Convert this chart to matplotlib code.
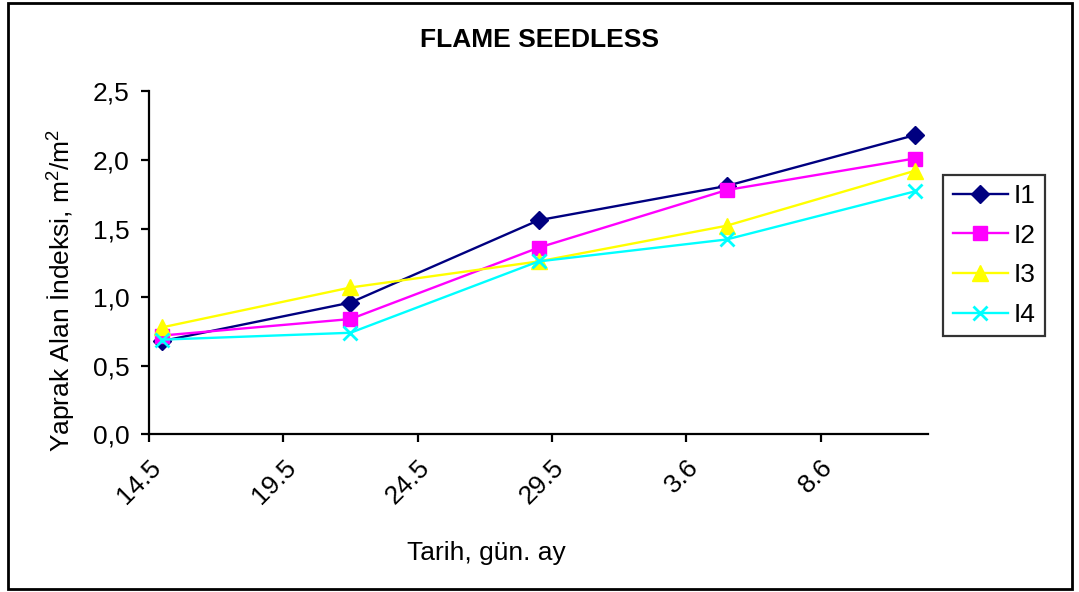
import matplotlib
matplotlib.use("Agg")
import matplotlib.pyplot as plt
from matplotlib.patches import Rectangle
import pandas as pd

plt.rcParams['font.family'] = ['Liberation Sans', 'DejaVu Sans']
plt.rcParams['mathtext.fontset'] = 'custom'
plt.rcParams['mathtext.rm'] = 'Liberation Sans'
plt.rcParams['mathtext.it'] = 'Liberation Sans'
plt.rcParams['mathtext.bf'] = 'Liberation Sans:bold'

# ---- data ----
dates = ['2009-05-14', '2009-05-21', '2009-05-28', '2009-06-04', '2009-06-11']
series_names = ['I1', 'I2', 'I3', 'I4']
I1 = [0.68, 0.96, 1.56, 1.81, 2.18]
I2 = [0.72, 0.84, 1.36, 1.78, 2.01]
I3 = [0.78, 1.07, 1.26, 1.52, 1.92]
I4 = [0.69, 0.74, 1.26, 1.42, 1.77]
tick_dates = ['2009-05-14', '2009-05-19', '2009-05-24', '2009-05-29', '2009-06-03', '2009-06-08']
x_start, x_end = '2009-05-14', '2009-06-12'
title = 'FLAME SEEDLESS'
xlabel = 'Tarih, gün. ay'
ylabel = 'Yaprak Alan İndeksi, m$^{2}$/m$^{2}$'

W, H = 1079, 592
fig = plt.figure(figsize=(W / 100, H / 100), dpi=100)
ax = fig.add_axes([149 / W, 1 - 434.3 / H, (928 - 149) / W, (434.3 - 91.3) / H])

# Excel date axis: points sit at mid-day
x = pd.to_datetime(dates) + pd.Timedelta(hours=12)

styles = [
    dict(color='#000080', marker='D', ms=9.5, mfc='#000080', mec='#000080'),
    dict(color='#FF00FF', marker='s', ms=10.5, mfc='#FF00FF', mec='#FF00FF'),
    dict(color='#FFFF00', marker='^', ms=11.5, mfc='#FFFF00', mec='#FFFF00'),
    dict(color='#00FFFF', marker='x', ms=10, mew=2),
]
for name, vals, st in zip(series_names, [I1, I2, I3, I4], styles):
    ax.plot(x, vals, lw=1.7, label=name, clip_on=False, **st)

ax.set_xlim(pd.Timestamp(x_start), pd.Timestamp(x_end))
ax.set_ylim(0, 2.5)
ax.set_yticks([0, 0.5, 1.0, 1.5, 2.0, 2.5])
ax.set_yticklabels([f"{v:.1f}".replace('.', ',') for v in [0, 0.5, 1.0, 1.5, 2.0, 2.5]])
td = pd.to_datetime(tick_dates)
ax.set_xticks(td)
ax.set_xticklabels([f"{d.day}.{d.month}" for d in td], rotation=45, ha='right',
                   va='top', rotation_mode='anchor')

for s in ['top', 'right']:
    ax.spines[s].set_visible(False)
for s in ['left', 'bottom']:
    ax.spines[s].set_linewidth(1.6)
    ax.spines[s].set_color('black')
ax.tick_params(axis='both', direction='out', length=6, width=1.6, labelsize=19, colors='black')
ax.tick_params(axis='y', pad=8)
ax.tick_params(axis='x', pad=9)

fig.text(540 / W, 1 - 40 / H, title, ha='center', va='center', fontsize=19, fontweight='bold')
fig.text(486 / W, 1 - 553 / H, xlabel, ha='center', va='center', fontsize=19)
fig.text(62 / W, 1 - 290 / H, ylabel, ha='center', va='center', fontsize=19, rotation=90)

leg = fig.legend(loc='center', bbox_to_anchor=(994 / W, 1 - 255.5 / H), fontsize=19,
                 frameon=True, fancybox=False, edgecolor='black', handlelength=2.1,
                 handletextpad=0.2, labelspacing=0.6, borderpad=0.35, borderaxespad=0)
leg.get_frame().set_linewidth(1.6)

fig.patches.append(Rectangle((8 / W, 1 - 589 / H), (1072 - 8) / W, (589 - 3) / H,
                             transform=fig.transFigure, fill=False, ec='black', lw=2))

fig.savefig('out.png', dpi=100)
